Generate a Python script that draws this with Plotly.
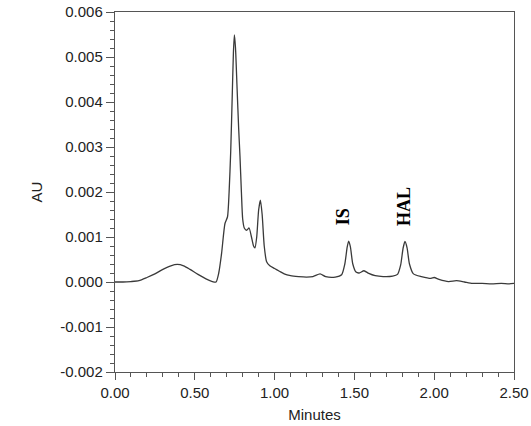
import plotly.graph_objects as go

# Chromatogram trace (minutes, AU)
time_min = [0.00, 0.05, 0.10, 0.15, 0.20, 0.25, 0.30, 0.35, 0.39, 0.43, 0.47, 0.52, 0.57,
            0.61, 0.633, 0.65, 0.668, 0.689, 0.705, 0.715, 0.725, 0.735, 0.742, 0.748,
            0.755, 0.765, 0.775, 0.783, 0.792, 0.80, 0.81, 0.825, 0.84, 0.855, 0.868,
            0.877, 0.888, 0.90, 0.911, 0.922, 0.935, 0.95, 0.97, 1.00, 1.03, 1.06, 1.10,
            1.15, 1.20, 1.24, 1.285, 1.32, 1.38, 1.42, 1.44, 1.455, 1.464, 1.475, 1.49,
            1.51, 1.53, 1.56, 1.59, 1.63, 1.68, 1.74, 1.77, 1.79, 1.805, 1.817, 1.83,
            1.845, 1.87, 1.92, 1.98, 2.00, 2.03, 2.09, 2.14, 2.19, 2.24, 2.30, 2.36,
            2.42, 2.47, 2.50]
absorbance = [0.0, 0.0, 0.00001, 0.00003, 0.00010, 0.00018, 0.00028, 0.00036, 0.00039,
              0.00036, 0.00028, 0.00017, 0.00007, 0.00001, 0.0, 0.0002, 0.00064, 0.0013,
              0.00145, 0.0020, 0.0029, 0.0042, 0.0051, 0.00549, 0.0052, 0.0043, 0.0034,
              0.0028, 0.0020, 0.0014, 0.0012, 0.00115, 0.00120, 0.00100, 0.00080, 0.00076,
              0.0010, 0.0016, 0.00182, 0.0015, 0.0008, 0.00045, 0.00036, 0.00030, 0.00024,
              0.00018, 0.00014, 0.00012, 0.00011, 0.00012, 0.00018, 0.00012, 0.00011,
              0.00016, 0.0004, 0.00078, 0.00091, 0.00078, 0.0004, 0.00022, 0.00020,
              0.00025, 0.00019, 0.00014, 0.00012, 0.00013, 0.00017, 0.00038, 0.00075,
              0.0009, 0.00076, 0.0004, 0.00018, 0.00012, 0.00008, 0.00010, 0.00006,
              0.00001, 0.00003, 0.0, -0.00003, -0.00003, -0.00004, -0.00003, -0.00004,
              -0.00003]

x_ticks = [0.0, 0.5, 1.0, 1.5, 2.0, 2.5]
x_tick_text = ["0.00", "0.50", "1.00", "1.50", "2.00", "2.50"]
y_ticks = [-0.002, -0.001, 0.0, 0.001, 0.002, 0.003, 0.004, 0.005, 0.006]
y_tick_text = ["-0.002", "-0.001", "0.000", "0.001", "0.002", "0.003", "0.004", "0.005", "0.006"]

peak_labels = ["IS", "HAL"]
peak_times = [1.464, 1.817]
peak_heights = [0.00091, 0.0009]

fig = go.Figure()
fig.add_trace(go.Scatter(x=time_min, y=absorbance, mode="lines",
                         line=dict(color="#3a3a3a", width=1.3, shape="spline", smoothing=0.6),
                         showlegend=False, hoverinfo="skip"))

for lab, t, h in zip(peak_labels, peak_times, peak_heights):
    fig.add_annotation(x=t, y=h, text="<b>" + lab + "</b>", textangle=-90, showarrow=False,
                       xanchor="center", yanchor="bottom", xshift=-6 if lab == "IS" else -1,
                       yshift=14, font=dict(family="Liberation Serif", size=18, color="black"))

axis_common = dict(showline=True, linecolor="#555", linewidth=1.4, mirror=True,
                   ticks="outside", tickcolor="#555", tickwidth=1.2, showgrid=False,
                   zeroline=False, automargin=False,
                   tickfont=dict(family="Liberation Sans", size=15, color="#222"))

fig.update_xaxes(range=[0, 2.5], tickvals=x_ticks, ticktext=x_tick_text, ticklen=7,
                 minor=dict(dtick=0.1, ticks="outside", ticklen=4, tickcolor="#555", showgrid=False),
                 title=dict(text="Minutes", font=dict(family="Liberation Sans", size=15, color="#222"),
                            standoff=9),
                 **axis_common)
fig.update_yaxes(range=[-0.002, 0.006], tickvals=y_ticks, ticktext=y_tick_text, ticklen=8,
                 minor=dict(dtick=0.0002, ticks="outside", ticklen=4, tickcolor="#555", showgrid=False),
                 title=dict(text="AU", font=dict(family="Liberation Sans", size=15, color="#222"),
                            standoff=14),
                 **axis_common)

fig.update_layout(width=531, height=426, margin=dict(l=115, r=17, t=12, b=54),
                  plot_bgcolor="white", paper_bgcolor="white")

fig.write_html("out.html")
